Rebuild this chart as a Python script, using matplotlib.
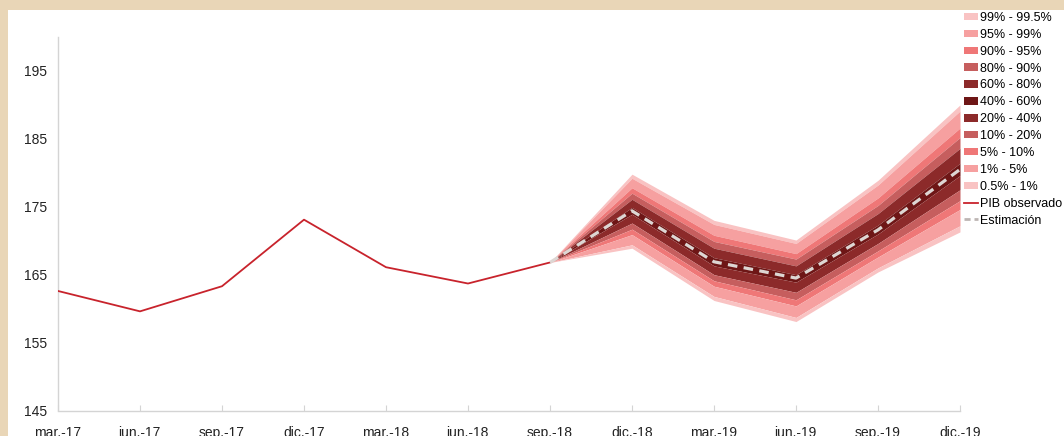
import matplotlib
matplotlib.use("Agg")
import matplotlib.pyplot as plt
from matplotlib.patches import Patch, Rectangle
from matplotlib.lines import Line2D

plt.rcParams['font.family'] = ['Liberation Sans', 'DejaVu Sans']

# tick labels (quarters)
periods = ['mar.-17', 'jun.-17', 'sep.-17', 'dic.-17', 'mar.-18', 'jun.-18',
           'sep.-18', 'dic.-18', 'mar.-19', 'jun.-19', 'sep.-19', 'dic.-19']

# observed GDP, mar.-17 .. sep.-18
pib_observado = [162.6, 159.6, 163.3, 173.1, 166.1, 163.7, 166.8]

# forecast, sep.-18 .. dic.-19
estimacion = [166.8, 174.4, 166.9, 164.5, 171.6, 180.5]

# fan chart quantile bounds, sep.-18 .. dic.-19
q995 = [166.8, 179.8, 173.0, 170.1, 178.9, 190.0]
q99 = [166.8, 179.2, 172.4, 169.6, 178.2, 189.1]
q95 = [166.8, 177.8, 170.8, 168.1, 176.3, 186.6]
q90 = [166.8, 177.0, 169.9, 167.3, 175.2, 185.2]
q80 = [166.8, 176.1, 168.9, 166.3, 174.0, 183.6]
q60 = [166.8, 174.9, 167.5, 165.0, 172.3, 181.4]
q40 = [166.8, 173.9, 166.3, 163.9, 171.0, 179.6]
q20 = [166.8, 172.6, 165.0, 162.4, 169.6, 177.5]
q10 = [166.8, 171.7, 164.1, 161.3, 168.5, 175.9]
q05 = [166.8, 170.9, 163.3, 160.4, 167.6, 174.6]
q01 = [166.8, 169.4, 161.8, 158.7, 166.0, 172.2]
q005 = [166.8, 168.9, 161.2, 158.1, 165.4, 171.3]

band_labels = ['99% - 99.5%', '95% - 99%', '90% - 95%', '80% - 90%', '60% - 80%',
               '40% - 60%', '20% - 40%', '10% - 20%', '5% - 10%', '1% - 5%', '0.5% - 1%']
band_bounds = [(q99, q995), (q95, q99), (q90, q95), (q80, q90), (q60, q80),
               (q40, q60), (q20, q40), (q10, q20), (q05, q10), (q01, q05), (q005, q01)]
band_colors = ['#F9C3C3', '#F6A0A0', '#EF7777', '#C65E5E', '#8C2A2A',
               '#6E1616', '#8C2A2A', '#C65E5E', '#EF7777', '#F6A0A0', '#F9C3C3']

fig = plt.figure(figsize=(10.64, 4.36), dpi=100)
fig.patch.set_facecolor('#E9D6B7')
# white panel inside the beige frame
fig.patches.append(Rectangle((8 / 1064, 0), 1, 1 - 10 / 436, transform=fig.transFigure,
                             facecolor='white', edgecolor='none', zorder=-10))

ax = fig.add_axes([58 / 1064, 1 - 410.5 / 436, (960 - 58) / 1064, (410.5 - 37) / 436])
ax.set_facecolor('none')

x_obs = list(range(len(pib_observado)))
x_fc = list(range(len(pib_observado) - 1, len(periods)))

for (lo, hi), col in zip(band_bounds, band_colors):
    ax.fill_between(x_fc, lo, hi, color=col, linewidth=0, zorder=2)

ax.plot(x_obs, pib_observado, color='#C8232C', lw=1.3, zorder=3)
ax.plot(x_fc, estimacion, color='#DDD6D3', lw=2.3, dashes=(3.0, 2.0), zorder=4)

ax.set_xlim(0, len(periods) - 1)
ax.set_ylim(145, 200)
ax.set_yticks(range(145, 200, 10))
ax.set_xticks(range(len(periods)))
ax.set_xticklabels(periods)

for side in ['top', 'right']:
    ax.spines[side].set_visible(False)
for side in ['left', 'bottom']:
    ax.spines[side].set_color('#D4D4D4')
    ax.spines[side].set_linewidth(1.0)

ax.tick_params(axis='x', direction='in', length=4, color='#D4D4D4', pad=11,
               labelsize=10, labelcolor='#222222')
ax.tick_params(axis='y', length=0, pad=8, labelsize=10, labelcolor='#222222')

handles = [Patch(facecolor=c, edgecolor='none') for c in band_colors]
handles.append(Line2D([], [], color='#C8232C', lw=1.3))
handles.append(Line2D([], [], color='#BDB5B3', lw=2, dashes=(2.2, 1.4)))
labels = band_labels + ['PIB observado', 'Estimación']

fig.legend(handles, labels, loc='upper left', bbox_to_anchor=(964 / 1064, 1 - 12 / 436),
           frameon=False, fontsize=9, labelspacing=0.39, handlelength=1.1,
           handleheight=0.55, handletextpad=0.15, borderpad=0, borderaxespad=0)

fig.savefig('out.png', dpi=100, facecolor=fig.get_facecolor())
